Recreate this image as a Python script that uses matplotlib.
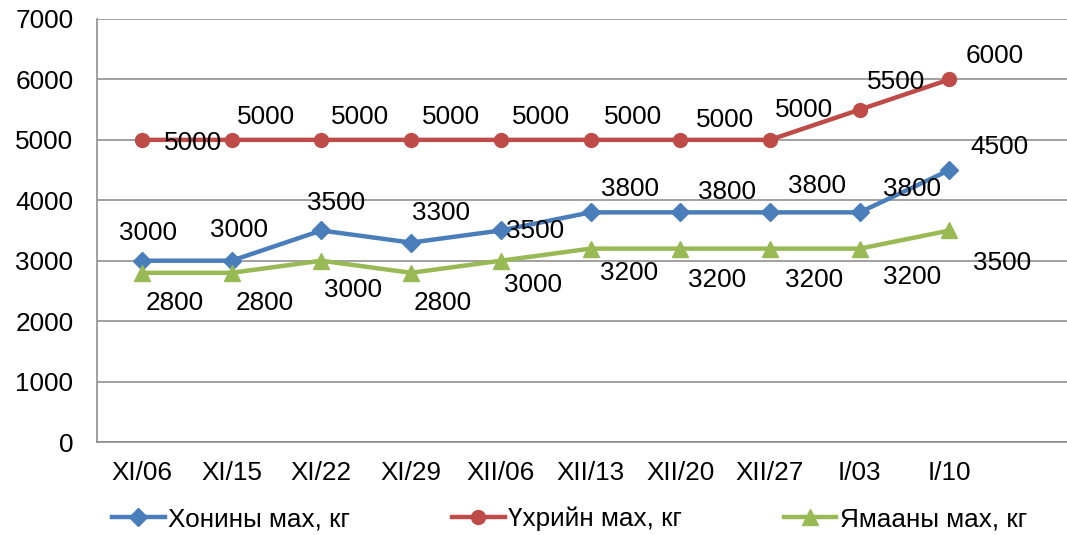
import matplotlib.pyplot as plt
import numpy as np

# data
dates = ['XI/06', 'XI/15', 'XI/22', 'XI/29', 'XII/06', 'XII/13', 'XII/20', 'XII/27', 'I/03', 'I/10']
khon = [3000, 3000, 3500, 3300, 3500, 3800, 3800, 3800, 3800, 4500]
ukher = [5000, 5000, 5000, 5000, 5000, 5000, 5000, 5000, 5500, 6000]
yamaa = [2800, 2800, 3000, 2800, 3000, 3200, 3200, 3200, 3200, 3500]
names = ['Хонины мах, кг', 'Үхрийн мах, кг', 'Ямааны мах, кг']

# label offsets (pixels, dx, dy)
off_khon = [(6, 28), (7, 31), (15, 28), (30, 30), (34, 0), (39, 23), (47, 20), (47, 26), (52, 23), (50, 23)]
off_ukher = [(51, -3), (34, 23), (39, 23), (40, 23), (40, 23), (42, 23), (45, 20), (34, 30), (36, 28), (45, 23)]
off_yamaa = [(33, -30), (33, -30), (32, -29), (32, -30), (32, -24), (39, -24), (37, -31), (44, -31), (52, -28), (53, -32)]

plt.rcParams['font.family'] = ['Liberation Sans', 'DejaVu Sans']
fs = 18.8

fig = plt.figure(figsize=(10.67, 5.35), dpi=100)
ax = fig.add_axes([97/1067, 1-442/535, 1-97/1067, (442-19)/535])

x = np.arange(len(dates))
series = [
    (khon, '#4A7EBB', 'D', 9, off_khon),
    (ukher, '#BE4B48', 'o', 10, off_ukher),
    (yamaa, '#98B954', '^', 11, off_yamaa),
]
for (vals, col, mk, ms, offs), nm in zip(series, names):
    ax.plot(x, vals, color=col, lw=3.2, marker=mk, ms=ms, label=nm, zorder=3)
    for xi, v, (dx, dy) in zip(x, vals, offs):
        ax.annotate(str(v), (xi, v), xytext=(dx, dy), textcoords='offset pixels',
                    ha='center', va='center', fontsize=fs, zorder=5)

ax.set_ylim(0, 7000)
ax.set_yticks(range(0, 7001, 1000))
ax.set_xlim(-0.5, 10.31)
ax.set_xticks(x)
ax.set_xticklabels(dates)
ax.grid(axis='y', color='#868686', lw=1.1)
ax.set_axisbelow(True)
for s in ['top', 'right']:
    ax.spines[s].set_visible(False)
for s in ['left', 'bottom']:
    ax.spines[s].set_color('#868686')
    ax.spines[s].set_linewidth(1.1)
ax.tick_params(axis='y', length=0, pad=17, labelsize=fs)
ax.tick_params(axis='x', length=0, pad=14, labelsize=fs)

fig.legend(loc='center', bbox_to_anchor=(570/1067, 1-519/535), ncol=3, frameon=False,
           fontsize=fs, handlelength=2.0, handletextpad=0.15, columnspacing=3.9)

fig.savefig('out.png', dpi=100)
